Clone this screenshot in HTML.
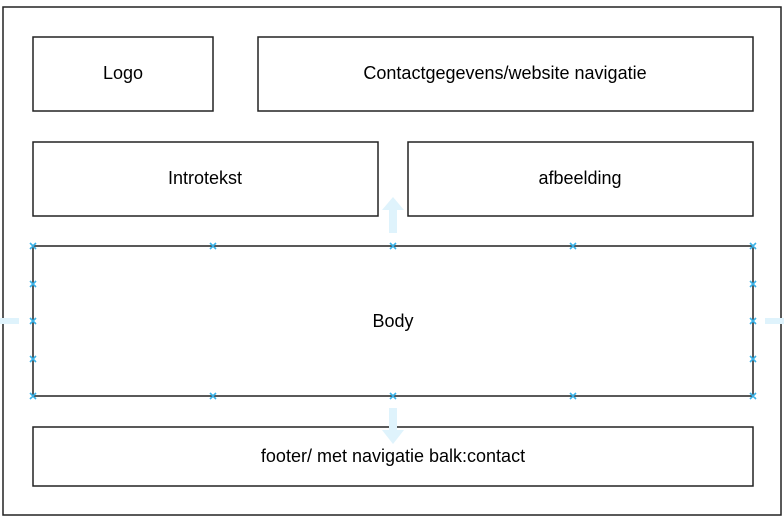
<!DOCTYPE html>
<html><head><style>html,body{margin:0;padding:0;background:#fff}svg{display:block}</style></head>
<body>
<svg width="784" height="517" xmlns="http://www.w3.org/2000/svg" font-family="Liberation Sans, Arial, sans-serif" font-size="18">
<rect x="0" y="0" width="784" height="517" fill="#fff"/>
<rect x="3" y="7" width="778" height="508" fill="#fff" stroke="#222" stroke-width="1.5"/>
<g fill="#fff" stroke="#222" stroke-width="1.5">
<rect x="33" y="37" width="180" height="74"/>
<rect x="258" y="37" width="495" height="74"/>
<rect x="33" y="142" width="345" height="74"/>
<rect x="408" y="142" width="345" height="74"/>
<rect x="33" y="246" width="720" height="150"/>
<rect x="33" y="427" width="720" height="59"/>
</g>
<g fill="#dff3fc">
<polygon points="393,197 404,210 397,210 397,233 389,233 389,210 382,210"/>
<polygon points="393,444 404,430 397,430 397,408 389,408 389,430 382,430"/>
<rect x="0" y="318" width="19" height="6"/>
<rect x="765" y="318" width="19" height="6"/>
</g>
<g fill="#000" text-anchor="middle">
<text x="123" y="79">Logo</text>
<text x="505" y="79">Contactgegevens/website navigatie</text>
<text x="205" y="184">Introtekst</text>
<text x="580" y="184">afbeelding</text>
<text x="393" y="327">Body</text>
<text x="393" y="462">footer/ met navigatie balk:contact</text>
</g>
<g stroke="#3bb3e8" stroke-width="1.6">
<path d="M30,243l6,6M36,243l-6,6 M210,243l6,6M216,243l-6,6 M390,243l6,6M396,243l-6,6 M570,243l6,6M576,243l-6,6 M750,243l6,6M756,243l-6,6
M30,393l6,6M36,393l-6,6 M210,393l6,6M216,393l-6,6 M390,393l6,6M396,393l-6,6 M570,393l6,6M576,393l-6,6 M750,393l6,6M756,393l-6,6
M30,281l6,6M36,281l-6,6 M30,318l6,6M36,318l-6,6 M30,356l6,6M36,356l-6,6
M750,281l6,6M756,281l-6,6 M750,318l6,6M756,318l-6,6 M750,356l6,6M756,356l-6,6"/>
</g>
</svg>
</body></html>
